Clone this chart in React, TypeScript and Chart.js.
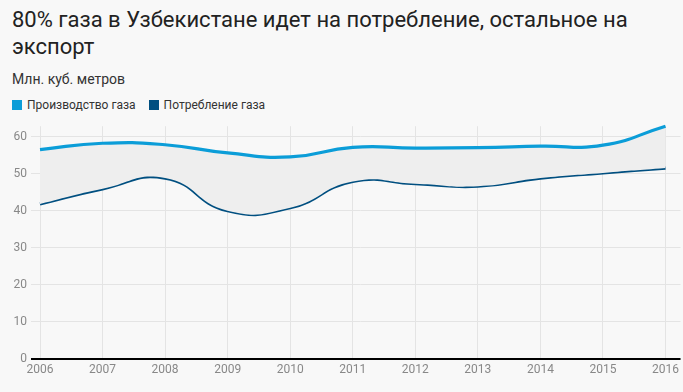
import React, { useEffect, useRef } from "react";
import { Chart, registerables } from "chart.js";

Chart.register(...registerables);

const TITLE = "80% газа в Узбекистане идет на потребление, остальное на экспорт";
const SUBTITLE = "Млн. куб. метров";
const years = [2006, 2007, 2008, 2009, 2010, 2011, 2012, 2013, 2014, 2015, 2016];
const productionLabel = "Производство газа";
const consumptionLabel = "Потребление газа";
const production = [56.5, 58.2, 57.8, 55.6, 54.5, 57.1, 56.9, 57.0, 57.4, 57.7, 62.8];
const consumption = [41.8, 45.9, 48.8, 40.0, 40.8, 47.9, 47.3, 46.6, 48.8, 50.2, 51.5];
const yTicks = [0, 10, 20, 30, 40, 50, 60];

const PROD_COLOR = "#0b9dd8";
const CONS_COLOR = "#004f80";
const FONT = "Roboto, 'Noto Sans', sans-serif";

export default function App() {
  const ref = useRef<HTMLCanvasElement | null>(null);

  useEffect(() => {
    document.body.style.margin = "0";
    document.body.style.background = "#f8f8f8";
    const canvas = ref.current;
    if (!canvas) return;
    const chart = new Chart(canvas, {
      type: "line",
      data: {
        datasets: [
          {
            label: productionLabel,
            data: years.map((x, i) => ({ x, y: production[i] })),
            borderColor: PROD_COLOR,
            backgroundColor: "#eeeeee",
            borderWidth: 3.2,
            pointRadius: 0,
            tension: 0.5,
            fill: "+1",
            clip: 6,
          },
          {
            label: consumptionLabel,
            data: years.map((x, i) => ({ x, y: consumption[i] })),
            borderColor: CONS_COLOR,
            backgroundColor: CONS_COLOR,
            borderWidth: 3.2,
            pointRadius: 0,
            tension: 0.5,
            fill: false,
            clip: 6,
          },
        ],
      },
      options: {
        animation: false,
        responsive: false,
        maintainAspectRatio: false,
        layout: { padding: { top: 7, left: 0, right: 0, bottom: 0 } },
        elements: { line: { capBezierPoints: false } },
        plugins: {
          legend: { display: false },
          tooltip: { enabled: false },
          title: { display: false },
        },
        scales: {
          x: {
            type: "linear",
            min: years[0],
            max: years[years.length - 1] + 0.24,
            afterFit: (s: any) => {
              s.height = 33;
            },
            afterBuildTicks: (s: any) => {
              s.ticks = years.map((v) => ({ value: v }));
            },
            ticks: {
              stepSize: 1,
              includeBounds: false,
              autoSkip: false,
              maxRotation: 0,
              padding: 4,
              color: "#888888",
              font: { family: FONT, size: 12 },
              callback: (v: any) => String(v),
            },
            grid: { color: "#e4e4e4", drawTicks: false, lineWidth: 1 },
            border: { display: false },
          },
          y: {
            min: 0,
            max: Math.max(...production),
            afterFit: (s: any) => {
              s.width = 40;
            },
            afterBuildTicks: (s: any) => {
              s.ticks = yTicks.map((v) => ({ value: v }));
            },
            ticks: {
              stepSize: 10,
              includeBounds: false,
              padding: 4,
              color: "#888888",
              font: { family: FONT, size: 12 },
            },
            grid: {
              color: (c: any) => (c.tick && c.tick.value === 0 ? "#000000" : "#e4e4e4"),
              lineWidth: (c: any) => (c.tick && c.tick.value === 0 ? 2 : 1),
              tickLength: 9,
            },
            border: { display: false },
          },
        },
      },
    } as any);
    return () => chart.destroy();
  }, []);

  const legendItem = (color: string, text: string) => (
    <span style={{ display: "inline-flex", alignItems: "center", marginRight: 13 }}>
      <span style={{ display: "inline-block", width: 10, height: 10, background: color, marginRight: 5 }} />
      <span>{text}</span>
    </span>
  );

  return (
    <div
      style={{
        position: "relative",
        width: 683,
        height: 392,
        background: "#f8f8f8",
        fontFamily: FONT,
        overflow: "hidden",
      }}
    >
      <div
        style={{
          position: "absolute",
          left: 12,
          top: 7,
          width: 640,
          fontSize: 22,
          lineHeight: "26.5px",
          color: "#222222",
        }}
      >
        {TITLE}
      </div>
      <div
        style={{
          position: "absolute",
          left: 12,
          top: 71,
          fontSize: 14,
          lineHeight: "16px",
          color: "#333333",
        }}
      >
        {SUBTITLE}
      </div>
      <div
        style={{
          position: "absolute",
          left: 12,
          top: 98,
          fontSize: 12,
          lineHeight: "14px",
          color: "#333333",
          display: "flex",
          alignItems: "center",
        }}
      >
        {legendItem(PROD_COLOR, productionLabel)}
        {legendItem(CONS_COLOR, consumptionLabel)}
      </div>
      <canvas
        ref={ref}
        width={683}
        height={277}
        style={{ position: "absolute", left: 0, top: 115, width: 683, height: 277 }}
      />
    </div>
  );
}
